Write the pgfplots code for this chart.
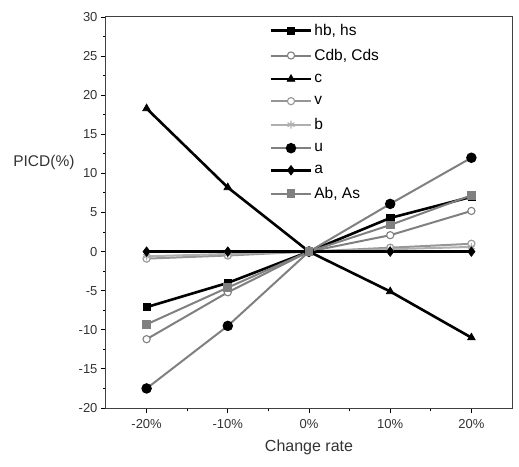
\documentclass[border=0pt]{standalone}
\usepackage{fontspec}
\setmainfont{Liberation Sans}
\usepackage{pgfplots}
\pgfplotsset{compat=1.18}
\usetikzlibrary{calc}
\definecolor{midgray}{RGB}{128,128,128}
\definecolor{ltgray}{RGB}{175,175,175}
\definecolor{lgray2}{RGB}{150,150,150}

\begin{document}
\begin{tikzpicture}
\begin{axis}[
    scale only axis,
    width=406pt, height=391pt,
    xmin=-25, xmax=25,
    ymin=-20, ymax=30,
    xtick={-20,-10,0,10,20},
    xticklabels={-20\%,-10\%,0\%,10\%,20\%},
    ytick={-20,-15,...,30},
    minor x tick num=1,
    minor y tick num=1,
    tick align=outside,
    xtick pos=left, ytick pos=left,
    major tick length=5pt, minor tick length=3pt,
    every tick/.style={black, line width=0.9pt},
    axis line style={line width=1pt, black!75},
    /pgf/number format/assume math mode=true,
    tick label style={font=\fontsize{13}{15}\selectfont, text=black!80},
    xticklabel style={yshift=-3pt},
    xlabel={Change rate},
    xlabel style={font=\fontsize{16}{18}\selectfont, text=black!80, yshift=-4pt},
    clip=false,
    legend style={draw=none, fill=none, at={(rel axis cs:0.40,0.99)}, anchor=north west,
        font=\fontsize{15.5}{17}\selectfont, row sep=8.3pt, inner sep=1pt},
    legend cell align=left,
    legend image code/.code={
        \draw[mark repeat=2,mark phase=2,#1] plot coordinates {(0pt,0pt) (20pt,0pt) (40pt,0pt)};
    },
]
\addplot[black, line width=2.6pt, mark=square*, mark size=3.6pt, mark options={solid, fill=black, line width=0.6pt}]
  coordinates {(-20,-7.1) (-10,-4.0) (0,0) (10,4.3) (20,7.0)};
\addlegendentry{hb, hs}
\addplot[midgray, line width=2pt, mark=*, mark size=3.6pt, mark options={fill=white, draw=midgray, line width=1.1pt}]
  coordinates {(-20,-11.2) (-10,-5.2) (0,0) (10,2.1) (20,5.2)};
\addlegendentry{Cdb, Cds}
\addplot[black, line width=2.6pt, mark=triangle*, mark size=4.5pt, mark options={fill=black, line width=0.6pt}]
  coordinates {(-20,18.3) (-10,8.2) (0,0) (10,-5.1) (20,-11.0)};
\addlegendentry{c}
\addplot[lgray2, line width=2pt, mark=*, mark size=3.6pt, mark options={fill=white, draw=lgray2, line width=1.1pt}]
  coordinates {(-20,-0.9) (-10,-0.5) (0,0) (10,0.5) (20,1.0)};
\addlegendentry{v}
\addplot[ltgray, line width=2pt, mark=asterisk, mark size=4pt, mark options={line width=1.1pt}]
  coordinates {(-20,-0.6) (-10,-0.3) (0,0) (10,0.3) (20,0.6)};
\addlegendentry{b}
\addplot[midgray, line width=2pt, mark=*, mark size=4.2pt, mark options={fill=black, draw=black}]
  coordinates {(-20,-17.5) (-10,-9.5) (0,0) (10,6.1) (20,12.0)};
\addlegendentry{u}
\addplot[black, line width=2.8pt, mark=diamond*, mark size=4.8pt, mark options={fill=black, line width=0.6pt}]
  coordinates {(-20,0) (-10,0) (0,0) (10,0) (20,0)};
\addlegendentry{a}
\addplot[midgray, line width=2pt, mark=square*, mark size=3.4pt, mark options={fill=midgray}]
  coordinates {(-20,-9.3) (-10,-4.6) (0,0) (10,3.4) (20,7.2)};
\addlegendentry{Ab, As}
\node[anchor=east, font=\fontsize{15.5}{17}\selectfont, text=black!80] at (rel axis cs:0,0.627) [xshift=-28pt] {PICD(\%)};
\end{axis}
\path ($(current axis.south west)+(-106pt,-58pt)$) rectangle ($(current axis.north east)+(7pt,17pt)$);
\end{tikzpicture}
\end{document}
